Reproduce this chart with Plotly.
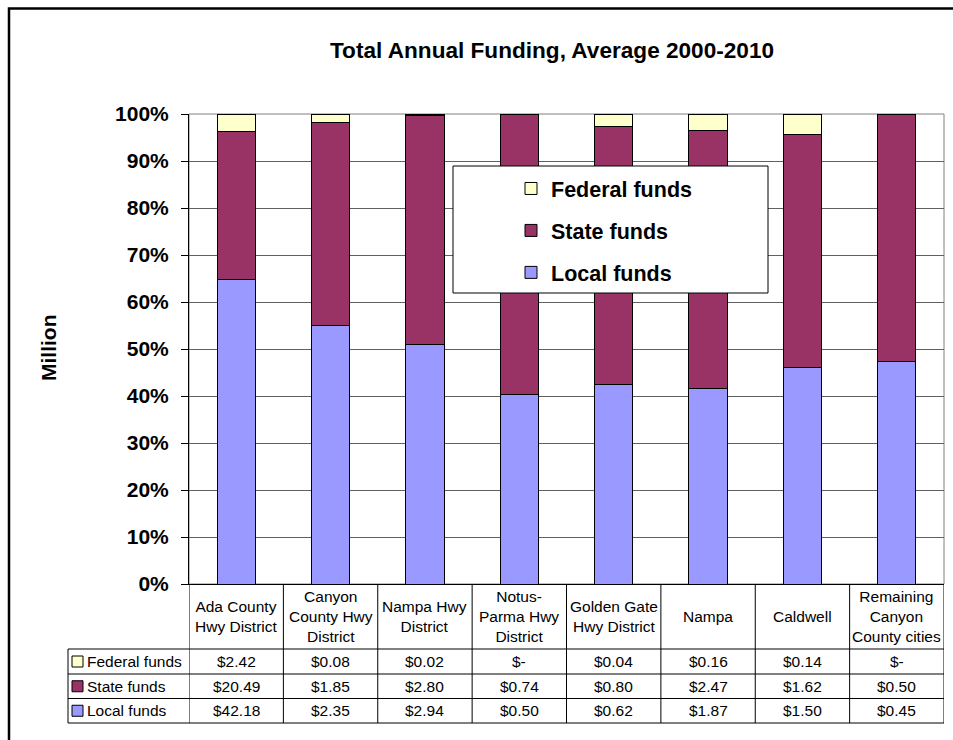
import plotly.graph_objects as go

# ---- data -------------------------------------------------------------
categories = [
    "Ada County Hwy District", "Canyon County Hwy District", "Nampa Hwy District",
    "Notus-Parma Hwy District", "Golden Gate Hwy District", "Nampa", "Caldwell",
    "Remaining Canyon County cities",
]
header_labels = [
    "Ada County<br>Hwy District", "Canyon<br>County Hwy<br>District", "Nampa Hwy<br>District",
    "Notus-<br>Parma Hwy<br>District", "Golden Gate<br>Hwy District", "Nampa", "Caldwell",
    "Remaining<br>Canyon<br>County cities",
]
federal_funds = [2.42, 0.08, 0.02, 0.0, 0.04, 0.16, 0.14, 0.0]
state_funds = [20.49, 1.85, 2.80, 0.74, 0.80, 2.47, 1.62, 0.50]
local_funds = [42.18, 2.35, 2.94, 0.50, 0.62, 1.87, 1.50, 0.45]
series_names = ["Local funds", "State funds", "Federal funds"]
series_colors = ["#9999FF", "#993366", "#FFFFCC"]
legend_ranks = [3, 2, 1]
y_ticks = [0, 10, 20, 30, 40, 50, 60, 70, 80, 90, 100]
y_tick_labels = ["0%", "10%", "20%", "30%", "40%", "50%", "60%", "70%", "80%", "90%", "100%"]

series_values = [local_funds, state_funds, federal_funds]

# ---- geometry (pixels) ------------------------------------------------
W, H = 953, 740
ML, MR, MT, MB = 189, 9, 114, 156
PW = W - ML - MR
PH = H - MT - MB
FONT = "Arial, Liberation Sans, sans-serif"


def px(x):
    return (x - ML) / PW


def py(y):
    return (H - MB - y) / PH


fig = go.Figure()
for name, vals, color, rank in zip(series_names, series_values, series_colors, legend_ranks):
    fig.add_trace(go.Bar(
        x=categories, y=vals, name=name, legendgroup=name, legendrank=rank,
        marker=dict(color=color, line=dict(color="black", width=1)),
    ))

shapes = []
annotations = []

# plot-area frame (grey, Excel style)
shapes.append(dict(type="rect", xref="paper", yref="paper", x0=0, x1=1, y0=0, y1=1,
                   line=dict(color="#808080", width=1), layer="below"))

# outer chart frame (left and top edges)
shapes.append(dict(type="path", xref="paper", yref="paper",
                   path=f"M {px(9)} {py(745)} L {px(9)} {py(8.5)} L {px(960)} {py(8.5)}",
                   line=dict(color="black", width=2.5)))

# ---- data table below the plot ----------------------------------------
table_line = dict(color="black", width=1)
header_bottom = 649
row_bounds = [649, 674, 698.5, 723]
label_left = 68

# vertical lines at category boundaries
for i in range(len(categories) + 1):
    shapes.append(dict(type="line", xref="x", yref="paper",
                       x0=i - 0.5, x1=i - 0.5, y0=py(584), y1=py(row_bounds[-1]),
                       line=table_line))
# left edge of the row-label column
shapes.append(dict(type="line", xref="paper", yref="paper",
                   x0=px(label_left), x1=px(label_left), y0=py(row_bounds[0]), y1=py(row_bounds[-1]),
                   line=table_line))
# horizontal row lines
for yb in row_bounds:
    shapes.append(dict(type="line", xref="paper", yref="paper",
                       x0=px(label_left), x1=1, y0=py(yb), y1=py(yb), line=table_line))

# category header
for cat, lab in zip(categories, header_labels):
    annotations.append(dict(x=cat, xref="x", y=py((584 + header_bottom) / 2), yref="paper",
                            text=lab, showarrow=False, xanchor="center", yanchor="middle",
                            font=dict(family=FONT, size=15.5, color="black")))

# value rows: Federal, State, Local (top to bottom)
row_order = [2, 1, 0]
for r, si in enumerate(row_order):
    yc = (row_bounds[r] + row_bounds[r + 1]) / 2
    # legend key
    shapes.append(dict(type="rect", xref="paper", yref="paper",
                       x0=px(72), x1=px(83), y0=py(yc + 5.5), y1=py(yc - 5.5),
                       fillcolor=series_colors[si], line=dict(color="black", width=1)))
    annotations.append(dict(x=px(85), xref="paper", y=py(yc), yref="paper",
                            text=series_names[si], showarrow=False,
                            xanchor="left", yanchor="middle",
                            font=dict(family=FONT, size=15.5, color="black")))
    for cat, v in zip(categories, series_values[si]):
        txt = "$-" if v == 0 else f"${v:.2f}"
        annotations.append(dict(x=cat, xref="x", y=py(yc), yref="paper",
                                text=txt, showarrow=False, xanchor="center", yanchor="middle",
                                font=dict(family=FONT, size=15.5, color="black")))

# legend box
shapes.append(dict(type="rect", xref="paper", yref="paper",
                   x0=px(453), x1=px(768), y0=py(293), y1=py(166),
                   fillcolor="white", line=dict(color="black", width=1), layer="above"))

# title and axis title
annotations.append(dict(x=px(552), xref="paper", y=py(50), yref="paper",
                        text="<b>Total Annual Funding, Average 2000-2010</b>", showarrow=False,
                        xanchor="center", yanchor="middle",
                        font=dict(family=FONT, size=22.6, color="black")))
annotations.append(dict(x=px(48), xref="paper", y=py(348), yref="paper",
                        text="<b>Million</b>", showarrow=False, textangle=-90,
                        xanchor="center", yanchor="middle",
                        font=dict(family=FONT, size=21, color="black")))

fig.update_layout(
    width=W, height=H,
    margin=dict(l=ML, r=MR, t=MT, b=MB, pad=0),
    paper_bgcolor="white", plot_bgcolor="white",
    barmode="stack", barnorm="percent", bargap=0.594,
    showlegend=True,
    legend=dict(
        x=px(511), y=py(168), xanchor="left", yanchor="top",
        traceorder="grouped", tracegroupgap=11,
        bgcolor="rgba(0,0,0,0)", borderwidth=0,
        font=dict(family=FONT, size=21.5, color="black", weight="bold"),
    ),
    xaxis=dict(
        range=[-0.5, len(categories) - 0.5], showticklabels=False, ticks="",
        showline=True, linecolor="black", linewidth=1, showgrid=False, zeroline=False,
        fixedrange=True,
    ),
    yaxis=dict(
        range=[0, 100], tickmode="array", tickvals=y_ticks, ticktext=y_tick_labels,
        showline=True, linecolor="black", linewidth=1,
        ticks="outside", ticklen=7, tickcolor="black", tickwidth=1,
        showgrid=True, gridcolor="#606060", gridwidth=1, zeroline=False,
        ticklabelstandoff=8,
        tickfont=dict(family=FONT, size=21, color="black", weight="bold"),
    ),
    shapes=shapes,
    annotations=annotations,
)

fig.write_html("out.html")
